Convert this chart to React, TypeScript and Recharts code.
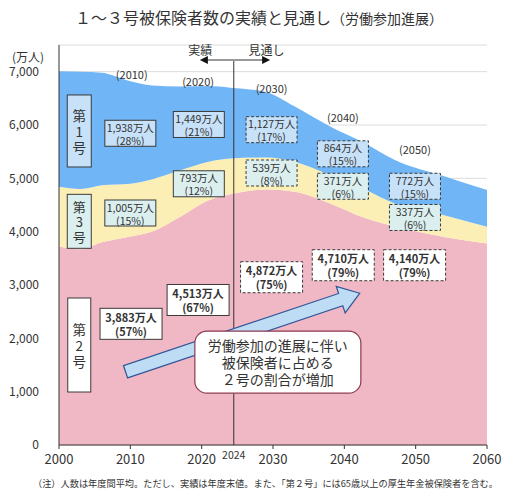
import React from "react";
import {
  AreaChart,
  Area,
  XAxis,
  YAxis,
  CartesianGrid,
  ReferenceLine,
  ReferenceDot,
} from "recharts";

// ---- data (万人) ----
const years = [2000, 2003, 2006, 2010, 2013, 2017, 2021, 2024, 2029, 2033, 2038, 2043, 2047, 2054, 2060];
const no2 = [3720, 3670, 3800, 3910, 4000, 4280, 4590, 4700, 4790, 4750, 4530, 4250, 4100, 3900, 3780];
const no3 = [1120, 1130, 1070, 990, 980, 870, 720, 670, 600, 560, 530, 530, 430, 410, 310];
const no1 = [2170, 2200, 2110, 1920, 1760, 1570, 1420, 1330, 1230, 1040, 910, 870, 820, 730, 690];

const xTicks = [2000, 2010, 2020, 2030, 2040, 2050, 2060];
const yTicks = [0, 1000, 2000, 3000, 4000, 5000, 6000, 7000];

const yearTags = ["(2010)", "(2020)", "(2030)", "(2040)", "(2050)"];
const no1Labels = [["1,938万人", "(28%)"], ["1,449万人", "(21%)"], ["1,127万人", "(17%)"], ["864万人", "(15%)"], ["772万人", "(15%)"]];
const no3Labels = [["1,005万人", "(15%)"], ["793万人", "(12%)"], ["539万人", "(8%)"], ["371万人", "(6%)"], ["337万人", "(6%)"]];
const no2Labels = [["3,883万人", "(57%)"], ["4,513万人", "(67%)"], ["4,872万人", "(75%)"], ["4,710万人", "(79%)"], ["4,140万人", "(79%)"]];

const title = "１～３号被保険者数の実績と見通し";
const subtitle = "（労働参加進展）";
const note = "（注）人数は年度間平均。ただし、実績は年度末値。また、「第２号」には65歳以上の厚生年金被保険者を含む。";
const calloutLines = ["労働参加の進展に伴い", "被保険者に占める", "２号の割合が増加"];

const data = years.map((y, i) => ({ year: y, no2: no2[i], no3: no3[i], no1: no1[i] }));

// ---- placement of annotations (data coordinates) ----
const tagPos = [[2010.2, 6957], [2019.5, 6831], [2029.8, 6688], [2039.8, 6156], [2049.9, 5545]];
const no1Pos = [[2010.0, 5845], [2019.6, 6010], [2029.8, 5912], [2039.8, 5460], [2049.9, 4851]];
const no3Pos = [[2010.0, 4350], [2019.6, 4898], [2029.8, 5100], [2039.8, 4851], [2049.9, 4266]];
const no2Pos = [[2010.1, 2272], [2019.5, 2719], [2029.8, 3146], [2039.85, 3371], [2049.85, 3371]];

const C_BLUE = "#70b5f5";
const C_YELLOW = "#fcefb6";
const C_PINK = "#f0b7c4";
const TXT = "#333";

type BoxProps = {
  cx: number;
  cy: number;
  w: number;
  h: number;
  lines: string[];
  fill: string;
  dashed?: boolean;
  bold?: boolean;
  fontSize?: number;
  lineH?: number;
};

const Box = ({ cx, cy, w, h, lines, fill, dashed, bold, fontSize = 10.5, lineH = 13 }: BoxProps) => {
  const n = lines.length;
  const y0 = cy - ((n - 1) / 2) * lineH;
  return (
    <g>
      <rect
        x={cx - w / 2}
        y={cy - h / 2}
        width={w}
        height={h}
        fill={fill}
        stroke="#3a3a3a"
        strokeWidth={1}
        strokeDasharray={dashed ? "3 2" : undefined}
      />
      <text
        x={cx}
        y={y0}
        textAnchor="middle"
        dominantBaseline="central"
        fontSize={fontSize}
        fontWeight={bold ? 700 : 400}
        fill={TXT}
      >
        {lines.map((t, i) => (
          <tspan key={i} x={cx} y={y0 + i * lineH} dominantBaseline="central">
            {t}
          </tspan>
        ))}
      </text>
    </g>
  );
};

const BigArrow = (p: any) => {
  const { x1, y1, x2, y2 } = p;
  const dx = x2 - x1;
  const dy = y2 - y1;
  const len = Math.sqrt(dx * dx + dy * dy);
  const ux = dx / len;
  const uy = dy / len;
  const nx = -uy;
  const ny = ux;
  const sw = 6.5;
  const hw = 14;
  const hl = 20;
  const bx = x2 - ux * hl;
  const by = y2 - uy * hl;
  const pts = [
    [x1 + nx * sw, y1 + ny * sw],
    [bx + nx * sw, by + ny * sw],
    [bx + nx * hw, by + ny * hw],
    [x2, y2],
    [bx - nx * hw, by - ny * hw],
    [bx - nx * sw, by - ny * sw],
    [x1 - nx * sw, y1 - ny * sw],
  ]
    .map((q) => q.join(","))
    .join(" ");
  return <polygon points={pts} fill="#bfdcf5" stroke="#2f5597" strokeWidth={1.2} />;
};

const DoubleArrow = (p: any) => {
  const { x1, y1, x2, y2 } = p;
  return (
    <g>
      <line x1={x1 + 6} y1={y1} x2={x2 - 6} y2={y2} stroke="#999" strokeWidth={2} />
      <polygon points={`${x1},${y1} ${x1 + 8},${y1 - 4} ${x1 + 8},${y1 + 4}`} fill="#111" />
      <polygon points={`${x2},${y2} ${x2 - 8},${y2 - 4} ${x2 - 8},${y2 + 4}`} fill="#111" />
    </g>
  );
};

const Txt = ({ cx, cy, t, size = 11, anchor = "middle" }: any) => (
  <text x={cx} y={cy} textAnchor={anchor} dominantBaseline="central" fontSize={size} fill={TXT}>
    {t}
  </text>
);

export default function App() {
  return (
    <div
      style={{
        position: "absolute",
        left: 0,
        top: 0,
        width: 518,
        height: 498,
        background: "#fff",
        fontFamily: "'Noto Sans CJK JP', 'Noto Sans', sans-serif",
        color: TXT,
      }}
    >
      <div
        style={{
          position: "absolute",
          left: 0,
          top: 6,
          width: 518,
          textAlign: "center",
          fontSize: 16,
          lineHeight: "22px",
          whiteSpace: "nowrap",
        }}
      >
        {title}
        <span style={{ fontSize: 14 }}>{subtitle}</span>
      </div>
      <div style={{ position: "absolute", left: 12, top: 49, fontSize: 12, lineHeight: "16px" }}>(万人)</div>
      <div
        style={{
          position: "absolute",
          left: 33,
          top: 477,
          fontSize: 9.2,
          lineHeight: "13px",
          whiteSpace: "nowrap",
        }}
      >
        {note}
      </div>
      <AreaChart
        width={518}
        height={498}
        data={data}
        margin={{ top: 45, right: 31, left: 0, bottom: 23 }}
      >
        <CartesianGrid horizontal vertical={false} stroke="#dcdcdc" />
        <XAxis
          dataKey="year"
          type="number"
          domain={[2000, 2060]}
          ticks={xTicks}
          height={30}
          tickSize={4}
          tickMargin={6}
          axisLine={{ stroke: "#333" }}
          tickLine={{ stroke: "#333" }}
          tick={{ fontSize: 13, fill: TXT }}
          interval={0}
        />
        <YAxis
          type="number"
          domain={[0, 7500]}
          ticks={yTicks}
          width={59}
          tickLine={false}
          axisLine={{ stroke: "#333" }}
          tickMargin={14}
          tick={{ fontSize: 12, fill: TXT }}
          tickFormatter={(v: number) => v.toLocaleString("en-US")}
          interval={0}
        />
        <Area dataKey="no2" stackId="s" type="monotone" stroke="none" fill={C_PINK} fillOpacity={1} isAnimationActive={false} />
        <Area dataKey="no3" stackId="s" type="monotone" stroke="none" fill={C_YELLOW} fillOpacity={1} isAnimationActive={false} />
        <Area dataKey="no1" stackId="s" type="monotone" stroke="none" fill={C_BLUE} fillOpacity={1} isAnimationActive={false} />

        <ReferenceLine
          segment={[{ x: 2024.5, y: 0 }, { x: 2024.5, y: 7219 }]}
          stroke="#333"
          strokeWidth={1}
          ifOverflow="visible"
        />
        <ReferenceLine
          segment={[{ x: 2019.75, y: 7219 }, { x: 2029.6, y: 7219 }]}
          ifOverflow="visible"
          shape={DoubleArrow}
        />
        <ReferenceLine
          segment={[{ x: 2009.33, y: 1374 }, { x: 2042.15, y: 2845 }]}
          ifOverflow="visible"
          shape={BigArrow}
        />

        <ReferenceDot x={2019.8} y={7425} r={0} ifOverflow="visible" shape={(p: any) => <Txt cx={p.cx} cy={p.cy} t="実績" size={12} />} />
        <ReferenceDot x={2029.1} y={7425} r={0} ifOverflow="visible" shape={(p: any) => <Txt cx={p.cx} cy={p.cy} t="見通し" size={12} />} />
        <ReferenceDot x={2024.5} y={-180} r={0} ifOverflow="visible" shape={(p: any) => <Txt cx={p.cx} cy={p.cy} t="2024" size={10.5} />} />

        {yearTags.map((t, i) => (
          <ReferenceDot
            key={"tag" + i}
            x={tagPos[i][0]}
            y={tagPos[i][1]}
            r={0}
            ifOverflow="visible"
            shape={(p: any) => <Txt cx={p.cx} cy={p.cy} t={t} size={11} />}
          />
        ))}

        <ReferenceDot x={2002.84} y={5888} r={0} ifOverflow="visible" shape={(p: any) => <Box cx={p.cx} cy={p.cy} w={24} h={72} lines={["第", "1", "号"]} fill="#c6e1f8" fontSize={13.5} lineH={16} />} />
        <ReferenceDot x={2002.84} y={4194} r={0} ifOverflow="visible" shape={(p: any) => <Box cx={p.cx} cy={p.cy} w={24} h={54} lines={["第", "3", "号"]} fill="#dcefef" fontSize={13} lineH={15} />} />
        <ReferenceDot x={2002.84} y={1875} r={0} ifOverflow="visible" shape={(p: any) => <Box cx={p.cx} cy={p.cy} w={23} h={94} lines={["第", "2", "号"]} fill="#ffffff" fontSize={13.5} lineH={16} />} />

        {no1Labels.map((l, i) => (
          <ReferenceDot
            key={"n1" + i}
            x={no1Pos[i][0]}
            y={no1Pos[i][1]}
            r={0}
            ifOverflow="visible"
            shape={(p: any) => <Box cx={p.cx} cy={p.cy} w={51} h={26} lines={l} fill="#c6e1f8" dashed={i >= 2} />}
          />
        ))}
        {no3Labels.map((l, i) => (
          <ReferenceDot
            key={"n3" + i}
            x={no3Pos[i][0]}
            y={no3Pos[i][1]}
            r={0}
            ifOverflow="visible"
            shape={(p: any) => <Box cx={p.cx} cy={p.cy} w={51} h={26} lines={l} fill="#dcefef" dashed={i >= 2} />}
          />
        ))}
        {no2Labels.map((l, i) => (
          <ReferenceDot
            key={"n2" + i}
            x={no2Pos[i][0]}
            y={no2Pos[i][1]}
            r={0}
            ifOverflow="visible"
            shape={(p: any) => <Box cx={p.cx} cy={p.cy} w={62} h={31} lines={l} fill="#ffffff" dashed={i >= 2} bold fontSize={11} lineH={14} />}
          />
        ))}

        <ReferenceDot
          x={2030.68}
          y={1553}
          r={0}
          ifOverflow="visible"
          shape={(p: any) => (
            <g>
              <rect x={p.cx - 83} y={p.cy - 31} width={166} height={62} rx={12} ry={12} fill="#fff" stroke="#8c3b52" strokeWidth={1.2} />
              <text x={p.cx} y={p.cy - 17} textAnchor="middle" fontSize={14} fill={TXT}>
                {calloutLines.map((t, i) => (
                  <tspan key={i} x={p.cx} y={p.cy + (i - 1) * 17} dominantBaseline="central">
                    {t}
                  </tspan>
                ))}
              </text>
            </g>
          )}
        />
      </AreaChart>
    </div>
  );
}
